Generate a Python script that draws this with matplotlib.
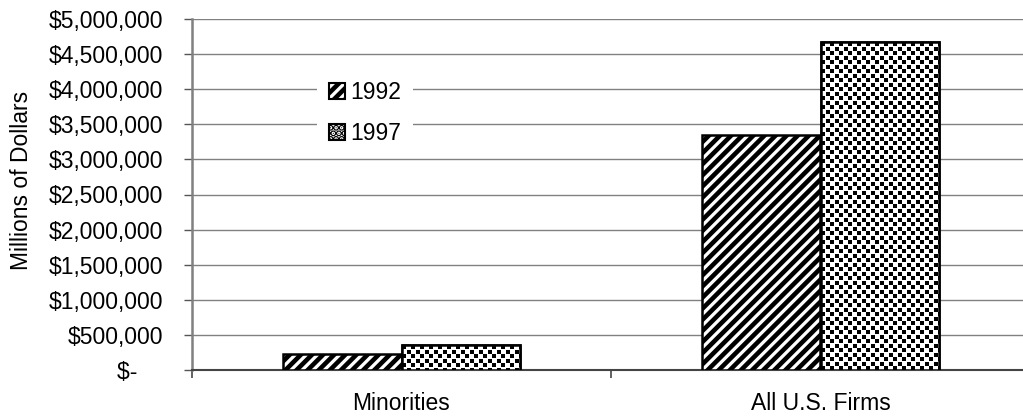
import matplotlib
matplotlib.use("Agg")
import numpy as np
import matplotlib.pyplot as plt
from matplotlib.patches import Patch
from matplotlib.ticker import FuncFormatter

# data (millions of dollars)
categories = ["Minorities", "All U.S. Firms"]
years = ["1992", "1997"]
receipts_1992 = [228000, 3345000]
receipts_1997 = [356000, 4670000]
y_ticks = [0, 500000, 1000000, 1500000, 2000000, 2500000,
           3000000, 3500000, 4000000, 4500000, 5000000]

plt.rcParams['font.family'] = ['Liberation Sans', 'DejaVu Sans']
plt.rcParams['font.size'] = 16.5
plt.rcParams['hatch.linewidth'] = 3.3


def dot_texture(w, h, tile=9, dot=4):
    # staggered black squares, like the old Excel dotted fill
    yy, xx = np.mgrid[0:h, 0:w]
    a = ((xx % tile) < dot) & ((yy % tile) < dot)
    b = (((xx + tile // 2) % tile) < dot) & (((yy + tile // 2) % tile) < dot)
    return np.where(a | b, 0.0, 1.0)


fig = plt.figure(figsize=(10.23, 4.18), dpi=100)
ax = fig.add_axes([192 / 1023, 1 - 370 / 418, 838 / 1023, 351 / 418])
ax.set_xlim(-0.5, 1.5)
ax.set_ylim(0, 5000000)

x = np.arange(len(categories))
width = 0.284

# 1992: diagonal stripes
ax.bar(x - width / 2, receipts_1992, width, facecolor='white',
       edgecolor='black', linewidth=1.8, hatch='///', zorder=3)

# 1997: dotted fill drawn as a clipped texture
bars97 = ax.bar(x + width / 2, receipts_1997, width, facecolor='white',
                edgecolor='black', linewidth=1.8, zorder=3)
for b in bars97:
    x0, y0 = b.get_x(), b.get_y()
    x1, y1 = x0 + b.get_width(), y0 + b.get_height()
    p0 = ax.transData.transform((x0, y0))
    p1 = ax.transData.transform((x1, y1))
    w_px = int(round(p1[0] - p0[0]))
    h_px = int(round(p1[1] - p0[1]))
    im = ax.imshow(dot_texture(w_px, h_px), extent=(x0, x1, y0, y1),
                   aspect='auto', cmap='gray', vmin=0, vmax=1,
                   interpolation='nearest', zorder=3.5)
    im.set_clip_path(b)
ax.bar(x + width / 2, receipts_1997, width, facecolor='none',
       edgecolor='black', linewidth=1.8, zorder=4)

ax.set_xlim(-0.5, 1.5)
ax.set_ylim(0, 5000000)
ax.set_aspect('auto')
ax.set_yticks(y_ticks)


def money(v, pos):
    if v == 0:
        return "$-    "
    return "${:,.0f}".format(v)


ax.yaxis.set_major_formatter(FuncFormatter(money))
ax.yaxis.grid(True, color='#808080', linewidth=1.0, zorder=0)
ax.set_axisbelow(True)

ax.set_xticks([0, 1])
ax.set_xticklabels(categories)
ax.set_xticks([-0.5, 0.5, 1.5], minor=True)
ax.tick_params(axis='x', which='major', length=0, pad=16)
ax.tick_params(axis='x', which='minor', length=6, width=1.3, color='#555555')
ax.tick_params(axis='y', length=6, width=1.0, color='#555555', pad=15)

for s in ['top', 'right']:
    ax.spines[s].set_visible(False)
ax.spines['left'].set_color('#808080')
ax.spines['left'].set_linewidth(1.8)
ax.spines['bottom'].set_color('#444444')
ax.spines['bottom'].set_linewidth(1.5)

fig.text(22 / 1023, 1 - 180 / 418, "Millions of Dollars", rotation=90,
         ha='center', va='center')

handles = [Patch(facecolor='white', edgecolor='black', linewidth=1.5,
                 hatch='///', label=years[0]),
           Patch(facecolor='white', edgecolor='black', linewidth=1.5,
                 hatch='...', label=years[1])]
leg = ax.legend(handles=handles, loc='center',
                bbox_to_anchor=(365 / 1023, 1 - 113 / 418),
                bbox_transform=fig.transFigure, frameon=True,
                facecolor='white', edgecolor='none', framealpha=1,
                fancybox=False, handlelength=0.7, handleheight=0.7,
                handletextpad=0.25, labelspacing=0.8, borderpad=0.5)
leg.set_zorder(5)

fig.savefig("out.png", dpi=100)
